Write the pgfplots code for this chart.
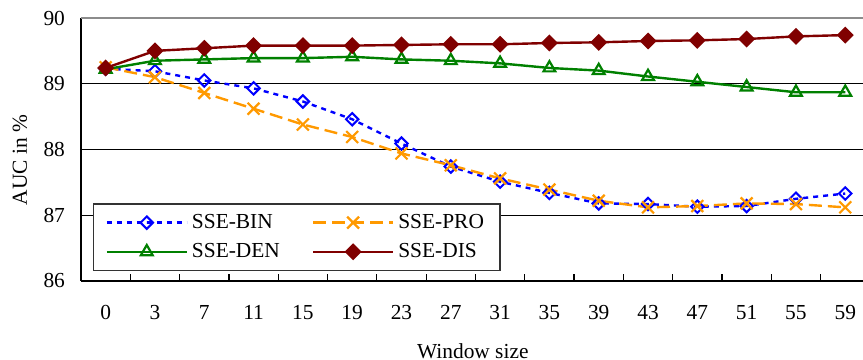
\documentclass[border=0pt]{standalone}
\usepackage{fontspec}
\setmainfont{Liberation Serif}
\usepackage{pgfplots}
\pgfplotsset{compat=1.18}
\definecolor{cBin}{RGB}{0,0,255}
\definecolor{cPro}{RGB}{255,153,0}
\definecolor{cDen}{RGB}{0,128,0}
\definecolor{cDis}{RGB}{128,0,0}
\begin{document}
\begin{tikzpicture}[font=\fontsize{10.7}{12.8}\selectfont]
\begin{axis}[name=ax, scale only axis, width=391pt, height=131.5pt,
  xmin=-0.5, xmax=15.36, ymin=86, ymax=90,
  axis x line*=bottom, axis y line*=left,
  x axis line style={line width=1.3pt, -}, y axis line style={line width=1pt, -},
  xtick={0,...,15},
  xticklabels={0,3,7,11,15,19,23,27,31,35,39,43,47,51,55,59},
  minor xtick={0.5,1.5,...,14.5},
  minor x tick style={black, line width=0.6pt},
  xtick align=inside, major tick length=0pt, minor tick length=3.5pt,
  ytick={86,87,88,89,90},
  ymajorgrids, major grid style={black, line width=0.5pt},
  xticklabel style={yshift=-8.5pt},
  yticklabel style={xshift=-4.5pt},
  /pgf/number format/assume math mode=true,
  xlabel={Window size}, ylabel={AUC in \%},
  xlabel style={at={(axis description cs:0.501,-0.266)}, anchor=center},
  ylabel style={at={(axis description cs:-0.078,0.46)}, anchor=center},
  clip=false,
  legend columns=2,
  legend style={at={(rel axis cs:0.0153,0.038)}, anchor=south west,
    draw=black!80, line width=0.6pt, inner xsep=6pt, inner ysep=3pt,
    row sep=2pt, cells={anchor=west},
    /tikz/every even column/.append style={column sep=14pt}},
  legend image code/.code={\draw[mark repeat=2, mark phase=2] plot coordinates {(0pt,0pt) (20pt,0pt) (40pt,0pt)};},
]
\addplot[cBin, line width=1.2pt, dash pattern=on 2.5pt off 2.5pt, mark=square, mark size=2.2pt,
  mark options={solid, rotate=45, fill=white, line width=1pt}] coordinates {
(0,89.23) (1,89.19) (2,89.05) (3,88.93) (4,88.73) (5,88.46) (6,88.09) (7,87.74)
(8,87.51) (9,87.34) (10,87.18) (11,87.17) (12,87.13) (13,87.14) (14,87.25) (15,87.33)};
\addlegendentry{SSE-BIN}
\addplot[cPro, line width=1.2pt, dash pattern=on 6.5pt off 3pt, mark=x, mark size=4.2pt,
  mark options={solid, line width=1.1pt}] coordinates {
(0,89.25) (1,89.10) (2,88.86) (3,88.62) (4,88.38) (5,88.19) (6,87.94) (7,87.76)
(8,87.56) (9,87.39) (10,87.22) (11,87.12) (12,87.14) (13,87.18) (14,87.17) (15,87.12)};
\addlegendentry{SSE-PRO}
\addplot[cDen, line width=1.2pt, mark=triangle, mark size=3.4pt,
  mark options={solid, fill=white, line width=1.1pt}] coordinates {
(0,89.22) (1,89.35) (2,89.37) (3,89.39) (4,89.39) (5,89.41) (6,89.37) (7,89.35)
(8,89.31) (9,89.24) (10,89.20) (11,89.11) (12,89.03) (13,88.95) (14,88.87) (15,88.87)};
\addlegendentry{SSE-DEN}
\addplot[cDis, line width=1.2pt, mark=square*, mark size=2.4pt,
  mark options={solid, rotate=45}] coordinates {
(0,89.24) (1,89.50) (2,89.54) (3,89.58) (4,89.58) (5,89.58) (6,89.59) (7,89.60)
(8,89.60) (9,89.62) (10,89.63) (11,89.65) (12,89.66) (13,89.68) (14,89.72) (15,89.74)};
\addlegendentry{SSE-DIS}
\draw[black!45, line width=1.3pt] (rel axis cs:0,1) -- (rel axis cs:1,1);
\end{axis}
\pgfresetboundingbox
\path ([xshift=-40.5pt,yshift=-39.5pt]ax.south west) rectangle ([yshift=9pt]ax.north east);
\end{tikzpicture}
\end{document}
